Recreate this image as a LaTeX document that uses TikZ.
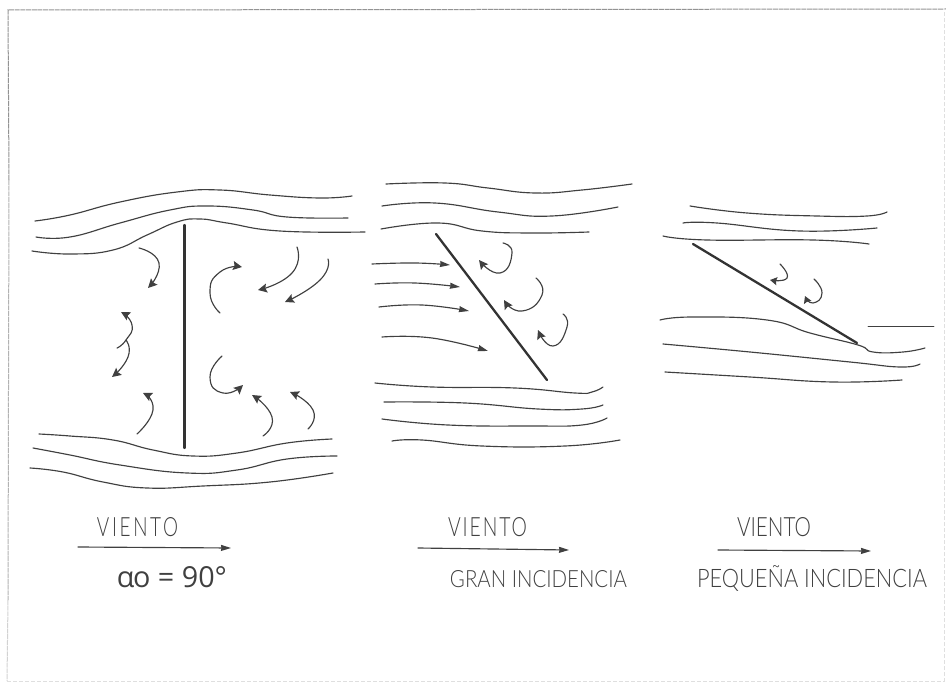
\documentclass[tikz,border=0pt]{standalone}
\usepackage{fontspec}
\usepackage{graphicx}
\usetikzlibrary{arrows.meta}
\setmainfont[UprightFont=* Light]{Lato}
\newfontfamily\alphafont{Open Sans}
\definecolor{ink}{gray}{0.25}
\tikzset{
  stream/.style={ink,line width=1.15pt,line cap=round,line join=round,smooth,tension=0.8},
  plate/.style={black!80,line width=2.3pt,line cap=round},
  curl/.style={stream,line width=1.15pt,tension=1,-{Stealth[length=9pt,width=9pt,inset=1.5pt]}},
  smallcurl/.style={curl,-{Stealth[length=7pt,width=8pt,inset=1pt]}},
  wind/.style={stream,-{Stealth[length=10pt,width=6pt,inset=0.5pt]}},
  frame/.style={gray!85,line width=1pt,dash pattern=on 5pt off 0.7pt},
  faintframe/.style={gray!25,line width=0.7pt,dash pattern=on 4pt off 2pt},
  label/.style={ink,inner sep=0pt,anchor=center}
}
\newcommand{\hw}[3]{\resizebox{#1pt}{#2pt}{#3}}
\begin{document}
\begin{tikzpicture}[x=1pt,y=-1pt]
\useasboundingbox (0,0) rectangle (946,685);
\draw[frame] (9,180) -- (8,10) -- (946,9);
\draw[frame,gray!60] (9,180) -- (8,600);
\draw[frame,gray!35] (8,600) -- (7,681);
\draw[faintframe] (7,681) -- (944,681) -- (944,9);
% Left: alpha = 90
\draw[stream] plot[smooth] coordinates {(35,221)(70,215)(120,202)(177,192)(220,190)(270,195)(320,198)(352,196)};
\draw[stream] plot[smooth] coordinates {(36,237)(70,237)(120,223)(170,210)(207,206)(253,210)(287,217)(348,218)};
\draw[stream] plot[smooth] coordinates {(32,251)(70,254)(113,250)(147,235)(177,222)(200,219)(227,223)(280,231)(365,232)};
\draw[plate] (184.5,225) -- (184.5,448);
\draw[stream] plot[smooth] coordinates {(39,434)(70,436)(113,440)(153,450)(193,456)(237,453)(287,443)(332,439)};
\draw[stream] plot[smooth] coordinates {(33,448)(70,455)(120,465)(187,473)(237,470)(287,459)(337,456)};
\draw[stream] plot[smooth] coordinates {(30,468)(63,472)(103,482)(147,488)(203,486)(270,482)(333,473)};
\draw[curl] plot[smooth] coordinates {(139,248)(159,263)(148,288)};
\draw[curl] plot[smooth] coordinates {(117,348)(126,340)(132,325)(121,312)};
\draw[curl] plot[smooth] coordinates {(126,340)(128,357)(112,377)};
\draw[curl] plot[smooth] coordinates {(137,434)(153,410)(143,393)};
\draw[curl] plot[smooth] coordinates {(220,313)(210,293)(220,272)(242,267)};
\draw[curl] plot[smooth] coordinates {(297,247)(292,273)(258,290)};
\draw[curl] plot[smooth] coordinates {(328,259)(320,280)(285,302)};
\draw[curl] plot[smooth] coordinates {(222,356)(210,377)(223,393)(243,385)};
\draw[curl] plot[smooth] coordinates {(263,436)(272,417)(252,395)};
\draw[curl] plot[smooth] coordinates {(308,429)(313,410)(290,392)};
% Middle
\draw[stream] plot[smooth] coordinates {(386,184)(445,183)(488,188)(535,193)(582,190)(632,184)};
\draw[stream] plot[smooth] coordinates {(382,206)(435,203)(498,212)(552,216)(618,207)};
\draw[stream] plot[smooth] coordinates {(381,229)(438,223)(482,231)(532,233)(589,232)};
\draw[plate] (436,234) -- (547,380);
\draw[wind] plot[smooth] coordinates {(372,264)(415,263)(450,265)};
\draw[wind] plot[smooth] coordinates {(375,284)(415,283)(460,287)};
\draw[wind] plot[smooth] coordinates {(379,307)(422,305)(469,311)};
\draw[wind] plot[smooth] coordinates {(382,337)(432,338)(488,351)};
\draw[curl] plot[smooth] coordinates {(503,243)(512,253)(500,273)(479,260)};
\draw[curl] plot[smooth] coordinates {(536,278)(542,295)(522,311)(504,300)};
\draw[curl] plot[smooth] coordinates {(563,314)(567,327)(553,346)(538,330)};
\draw[stream] plot[smooth] coordinates {(375,383)(432,387)(515,388)(575,393)(592,392)(603,387)};
\draw[stream] plot[smooth] coordinates {(384,402)(465,403)(538,409)(582,409)(603,405)};
\draw[stream] plot[smooth] coordinates {(382,419)(448,425)(532,426)(582,425)(607,418)};
\draw[stream] plot[smooth] coordinates {(392,441)(422,440)(482,446)(565,446)(620,440)};
% Right
\draw[stream] plot[smooth] coordinates {(690,206)(747,213)(817,216)(867,216)(887,212)};
\draw[stream] plot[smooth] coordinates {(683,223)(717,223)(800,231)(877,228)};
\draw[stream] plot[smooth] coordinates {(663,236)(707,240)(813,240)(869,244)};
\draw[plate] (693,244) -- (857,343);
\draw[smallcurl] plot[smooth] coordinates {(780,264)(787,278)(770,280)};
\draw[smallcurl] plot[smooth] coordinates {(814,279)(822,293)(813,303)(805,296)};
\draw[stream] plot[smooth] coordinates {(660,320)(693,317)(767,320)(810,333)(858,345)(873,352)(903,352)(925,348)};
\draw[stream] plot[smooth] coordinates {(663,344)(750,352)(850,362)(900,367)(920,364)};
\draw[stream] plot[smooth] coordinates {(665,372)(750,377)(833,382)(902,380)};
\draw[stream,line width=0.9pt] (868,326) -- (934,326);
% Wind arrows and labels
\coordinate (w1a) at (78,547); \coordinate (w1b) at (231,548);
\coordinate (w2a) at (418,548); \coordinate (w2b) at (569,550);
\coordinate (w3a) at (718,550); \coordinate (w3b) at (871,551);
\draw[wind] (w1a) -- (w1b);
\draw[wind] (w2a) -- (w2b);
\draw[wind] (w3a) -- (w3b);
\node[label] (v1) at (137.5,527) {\hw{81}{19}{\addfontfeature{LetterSpace=14}VIENTO}};
\node[label] (v2) at (487.5,527) {\hw{79}{19}{\addfontfeature{LetterSpace=10}VIENTO}};
\node[label] (v3) at (774,527) {\hw{74}{19}{VIENTO}};
\node[label] (a0) at (172,577) {\hw{110}{21}{\alphafont α\kern-0.5pt o = 90°}};
\node[label] (g1) at (538.5,579) {\hw{177}{17}{GRAN INCIDENCIA}};
\node[label] (p1) at (812,578) {\hw{230}{22}{PEQUEÑA INCIDENCIA}};
\end{tikzpicture}
\end{document}
